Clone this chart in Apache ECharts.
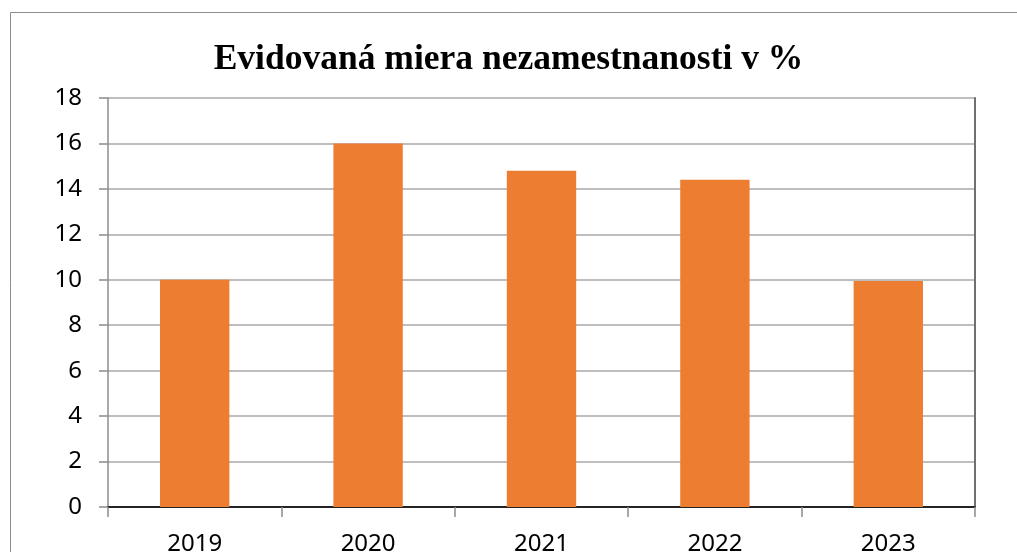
<!DOCTYPE html>
<html>
<head>
<meta charset="utf-8">
<script src="https://cdn.jsdelivr.net/npm/echarts@6/dist/echarts.min.js"></script>
<style>
  html, body { margin: 0; padding: 0; background: #fff; }
  #chart { width: 1017px; height: 552px; }
</style>
</head>
<body>
<div id="chart"></div>
<script>
// data
var years = ['2019', '2020', '2021', '2022', '2023'];
var rates = [10.0, 16.0, 14.8, 14.4, 9.95];
var titleText = 'Evidovaná miera nezamestnanosti v %';

var chart = echarts.init(document.getElementById('chart'));

var gridColor = '#a9a9a9';
var labelFont = '"Noto Sans", "Open Sans", sans-serif';

var option = {
    animation: false,
    backgroundColor: '#fff',
    title: {
        text: titleText,
        left: 'center',
        top: 37,
        textStyle: {
            fontFamily: '"Liberation Serif", "Times New Roman", serif',
            fontWeight: 'bold',
            fontSize: 35.5,
            color: '#000'
        }
    },
    // outer frame of the chart object
    graphic: [{
        type: 'rect',
        shape: { x: 10.5, y: 12.5, width: 1030, height: 570 },
        style: { fill: 'none', stroke: '#8c8c8c', lineWidth: 1 },
        silent: true
    }],
    grid: {
        left: 108,
        right: 42,
        top: 98,
        bottom: 45,
        containLabel: false,
        outerBoundsMode: 'none'
    },
    xAxis: [{
        type: 'category',
        data: years,
        axisLine: { lineStyle: { color: '#8c8c8c', width: 2 } },
        axisTick: { show: true, length: 10, lineStyle: { color: '#8c8c8c', width: 1.5 } },
        axisLabel: { color: '#000', fontSize: 24, fontFamily: labelFont, margin: 25 }
    }, {
        type: 'category',
        position: 'top',
        data: years,
        axisLine: { lineStyle: { color: '#000', width: 1.5 } },
        axisTick: { show: false },
        axisLabel: { show: false }
    }],
    yAxis: [{
        type: 'value',
        min: 0,
        max: 18,
        interval: 2,
        axisLine: { show: true, lineStyle: { color: '#8c8c8c', width: 1.5 } },
        axisTick: { show: true, length: 9, lineStyle: { color: '#8c8c8c', width: 1.5 } },
        axisLabel: { color: '#000', fontSize: 24, fontFamily: labelFont, margin: 26 },
        splitLine: { lineStyle: { color: gridColor, width: 1.5 } }
    }, {
        type: 'value',
        position: 'right',
        min: 0,
        max: 18,
        interval: 2,
        axisLine: { show: true, lineStyle: { color: '#707070', width: 2 } },
        axisTick: { show: false },
        axisLabel: { show: false },
        splitLine: { show: false }
    }],
    series: [{
        type: 'bar',
        data: rates,
        barWidth: '40%',
        itemStyle: { color: '#ED7D31' }
    }]
};

chart.setOption(option);
</script>
</body>
</html>
